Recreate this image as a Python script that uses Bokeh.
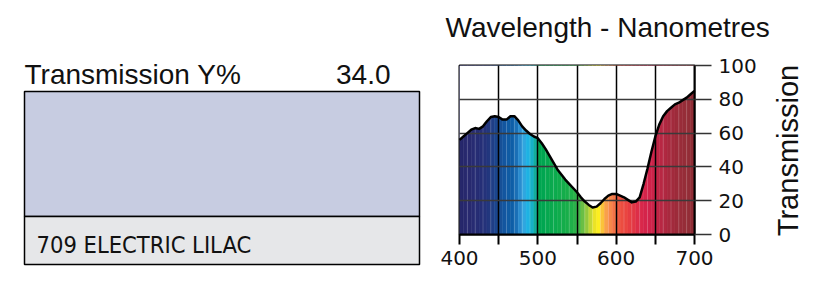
import math
from bokeh.plotting import figure
from bokeh.layouts import row, column
from bokeh.models import Range1d, FixedTicker
from bokeh.core.properties import value
from bokeh.embed import file_html
from bokeh.resources import INLINE

# ---- data ----
wavelength = [400, 405, 410, 415, 420, 425, 430, 435, 440, 445, 450, 455, 460, 465, 470,
              475, 480, 485, 490, 495, 500, 505, 510, 515, 520, 525, 530, 535, 540, 545,
              550, 555, 560, 565, 570, 575, 580, 585, 590, 595, 600, 605, 610, 615, 620,
              625, 630, 635, 640, 645, 650, 655, 660, 665, 670, 675, 680, 685, 690, 695, 700]
transmission = [56, 58, 60, 62, 63, 62.5, 64, 67, 69.5, 70, 69.5, 68, 68, 70, 70,
                67.5, 64, 61.5, 59.5, 58, 57, 54, 50.5, 46.5, 42.5, 38.5, 35.5, 32.5, 30, 27.5,
                25, 22, 19.5, 17.5, 16, 16.5, 18.5, 21, 23, 24, 24, 23, 22, 20.5, 19,
                19.5, 22, 30, 39, 49, 58, 65, 70, 73, 75, 77, 78, 79.5, 81, 83, 85]

band_start = list(range(400, 700, 5))
band_colors = ["#26276b", "#27286d", "#28296f", "#272b72", "#262d74", "#252f77", "#24327a", "#22377e",
               "#1f3e86", "#1b468e", "#175097", "#1356a0", "#105ba4", "#0e5ea7", "#1a6fb6", "#2a8ccf",
               "#30a6e0", "#1eb2e3", "#16b0c8", "#15ae9c", "#00a651", "#00a651", "#05a84f", "#0aa94e",
               "#0cab4e", "#10ac4c", "#14ad4b", "#18ae4a", "#1fb04a", "#2bb24a", "#44b649", "#6abf45",
               "#93c83e", "#c2d636", "#ebe325", "#fcee21", "#fbc33a", "#f9a04a", "#f7884a", "#f47446",
               "#ef5a42", "#ec4d40", "#ea4540", "#e63d42", "#e23744", "#dd2e48", "#d9284a", "#d5244a",
               "#d2234b", "#cc2349", "#c02546", "#b82743", "#b02841", "#a8293e", "#a22a3c", "#9d2b3a",
               "#992c39", "#962d38", "#932d37", "#902d36"]
band_end = [b + 5 for b in band_start]

x_ticks = [400, 450, 500, 550, 600, 650, 700]
x_tick_labels = {400: "400", 450: "", 500: "500", 550: "", 600: "600", 650: "", 700: "700"}
y_ticks = [0, 20, 40, 60, 80, 100]

title_text = "Wavelength - Nanometres"
y_axis_title = "Transmission"
filter_name = "709 ELECTRIC LILAC"
y_label = "Transmission Y%"
y_percent = "34.0"
swatch_color = "#c7cce1"

FONT = "Liberation Sans"


def blank_fig(w, h):
    f = figure(width=w, height=h, x_range=Range1d(0, w), y_range=Range1d(h, 0),
               output_backend="svg", toolbar_location=None,
               x_axis_location=None, y_axis_location=None,
               min_border_left=0, min_border_right=0, min_border_top=0, min_border_bottom=0)
    f.outline_line_color = None
    f.grid.visible = False
    return f


# ---- left panel ----
left = blank_fig(430, 283)
left.quad(left=[24], right=[419], top=[91], bottom=[216], fill_color=swatch_color,
          line_color="black", line_width=1.5)
left.quad(left=[24], right=[419], top=[216], bottom=[264], fill_color="#e6e7e9",
          line_color="black", line_width=1.5)
left.text(x=[24], y=[74], text=[y_label], text_font=value(FONT),
          text_font_size="28px", text_baseline="alphabetic", text_color="#111")
left.text(x=[390], y=[74], text=[y_percent], text_font=value(FONT),
          text_font_size="28px", text_baseline="alphabetic", text_align="right", text_color="#111")
left.text(x=[36], y=[244], text=[filter_name], text_font=value("DejaVu Sans Condensed"),
          text_font_size="23.5px", text_baseline="alphabetic", text_color="#111")

# ---- title strip ----
title_fig = blank_fig(340, 48)
title_fig.text(x=[15], y=[27], text=[title_text], text_font=value(FONT),
               text_font_size="28px", text_baseline="alphabetic", text_color="#111")

# ---- chart ----
p = figure(width=340, height=235, x_range=Range1d(400, 700), y_range=Range1d(0, 100),
           output_backend="svg", toolbar_location=None, y_axis_location="right",
           min_border_left=29, min_border_right=76, min_border_top=17, min_border_bottom=49)

p.quad(left=band_start, right=band_end, bottom=0, top=100, fill_color=band_colors,
       line_color=band_colors, line_width=0.5)
p.segment(x0=band_start[::2], y0=0, x1=band_start[::2], y1=100, line_color="white",
          line_alpha=0.18, line_width=1)
p.varea(x=wavelength, y1=transmission, y2=100, fill_color="white")
curve = p.line(wavelength, transmission, line_color="black", line_width=2.5, line_join="round")
curve.level = "annotation"

p.xaxis.ticker = FixedTicker(ticks=x_ticks)
p.xaxis.major_label_overrides = x_tick_labels
p.xaxis.major_tick_out = 10
p.xaxis.major_tick_in = 0
p.xaxis.major_tick_line_width = 2
p.xaxis.major_tick_line_color = "black"
p.xaxis.minor_tick_line_color = None
p.xaxis.axis_line_width = 2
p.xaxis.axis_line_color = "black"
p.xaxis.major_label_text_font = "DejaVu Sans"
p.xaxis.major_label_text_font_size = "20px"
p.xaxis.major_label_text_color = "#111"
p.xaxis.major_label_standoff = 6

p.yaxis.ticker = FixedTicker(ticks=y_ticks)
p.yaxis.major_tick_out = 17
p.yaxis.major_tick_in = 0
p.yaxis.major_tick_line_width = 1.5
p.yaxis.major_tick_line_color = "#333"
p.yaxis.minor_tick_line_color = None
p.yaxis.axis_line_width = 2
p.yaxis.axis_line_color = "black"
p.yaxis.major_label_text_font = "DejaVu Sans"
p.yaxis.major_label_text_font_size = "20px"
p.yaxis.major_label_text_color = "#111"
p.yaxis.major_label_standoff = 7
p.yaxis.major_label_orientation = "horizontal"

p.xgrid.ticker = FixedTicker(ticks=x_ticks)
p.ygrid.ticker = FixedTicker(ticks=y_ticks)
p.xgrid.grid_line_color = "black"
p.xgrid.grid_line_width = 1.5
p.ygrid.grid_line_color = "#3a3a3a"
p.ygrid.grid_line_width = 1.5
p.xgrid.level = "guide"
p.ygrid.level = "guide"

p.outline_line_color = "black"
p.outline_line_width = 2
p.background_fill_color = "white"

# ---- vertical axis title strip ----
label_fig = blank_fig(57, 283)
label_fig.text(x=[17], y=[150], text=[y_axis_title], angle=math.pi / 2, text_font=value(FONT),
               text_font_size="29px", text_align="center", text_baseline="middle", text_color="#111")

layout = row(column(left), column(row(title_fig), row(p)), column(label_fig), spacing=0)
open("out.html", "w").write(file_html(layout, INLINE))
